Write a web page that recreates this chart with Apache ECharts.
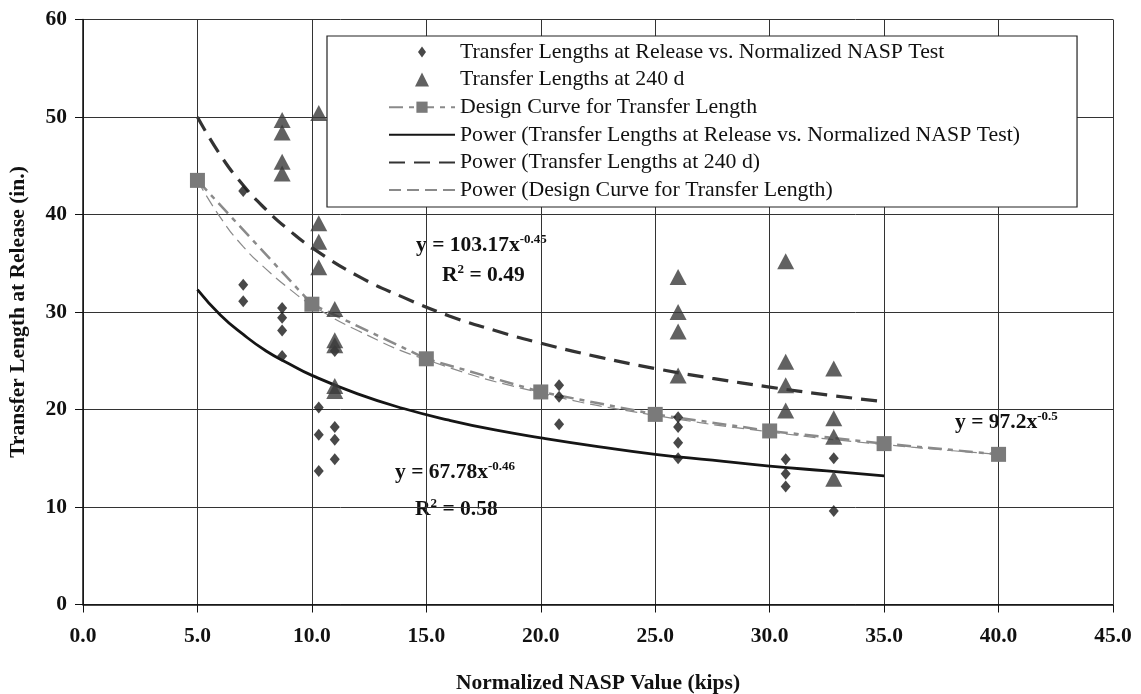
<!DOCTYPE html>
<html><head><meta charset="utf-8">
<script src="https://cdn.jsdelivr.net/npm/echarts@6/dist/echarts.min.js"></script>
<style>html,body{margin:0;padding:0;background:#fff}#c{width:1141px;height:694px}</style>
</head><body><div id="c"></div>
<script>
// Scatter data (x = normalized NASP value, y = transfer length)
const releaseX = [7.0,7.0,7.0, 8.7,8.7,8.7,8.7, 10.3,10.3,10.3, 11.0,11.0,11.0,11.0, 20.8,20.8,20.8, 26.0,26.0,26.0,26.0, 30.7,30.7,30.7, 32.8,32.8];
const releaseY = [42.4,32.8,31.1, 30.4,29.4,28.1,25.5, 20.2,17.4,13.7, 26.0,18.2,16.9,14.9, 22.5,21.3,18.5, 19.2,18.2,16.6,15.0, 14.9,13.4,12.1, 15.0,9.6];
const d240X = [8.7,8.7,8.7,8.7, 10.3,10.3,10.3,10.3, 11.0,11.0,11.0,11.0,11.0, 26.0,26.0,26.0,26.0, 30.7,30.7,30.7,30.7, 32.8,32.8,32.8,32.8];
const d240Y = [49.7,48.4,45.4,44.2, 50.4,39.1,37.2,34.6, 30.3,27.1,26.6,22.4,21.9, 33.6,30.0,28.0,23.5, 35.2,24.9,22.5,19.9, 24.2,19.1,17.2,12.9];
// Design curve points
const designX = [5,10,15,20,25,30,35,40];
const designY = [43.5,30.8,25.2,21.8,19.5,17.8,16.5,15.4];
// Trend lines
const trendX = [5,6,7,8,9,10,12,14,16,18,20,22.5,25,27.5,30,32.5,35];
const powRelease = [32.3,29.7,27.7,26.0,24.7,23.5,21.6,20.1,18.9,17.9,17.1,16.2,15.4,14.8,14.2,13.7,13.2];
const pow240 = [50.0,46.1,43.0,40.5,38.4,36.6,33.7,31.5,29.6,28.1,26.8,25.4,24.2,23.2,22.3,21.5,20.8];
const designTrendX = [5,6,7,8,9,10,12,15,20,25,30,35,40];
const powDesign = [43.5,39.7,36.7,34.4,32.4,30.7,28.1,25.1,21.7,19.4,17.7,16.4,15.4];
// Axis ticks
const xTicks = ['0.0','5.0','10.0','15.0','20.0','25.0','30.0','35.0','40.0','45.0'];

const names = [
 'Transfer Lengths at Release vs. Normalized NASP Test',
 'Transfer Lengths at 240 d',
 'Design Curve for Transfer Length',
 'Power (Transfer Lengths at Release vs. Normalized NASP Test)',
 'Power (Transfer Lengths at 240 d)',
 'Power (Design Curve for Transfer Length)'
];
const zip = (a,b)=>a.map((v,i)=>[v,b[i]]);
const serif = '"Liberation Serif","DejaVu Serif",serif';
const FS = 21.5;
const rich = {a:{fontFamily:serif,fontWeight:'bold',fontSize:FS,fill:'#111',lineHeight:24},
              s:{fontFamily:serif,fontWeight:'bold',fontSize:13,fill:'#111',verticalAlign:'top',lineHeight:24,padding:[0,0,10,0]}};

const chart = echarts.init(document.getElementById('c'));
chart.setOption({
  animation:false,
  backgroundColor:'#fff',
  grid:{left:83,right:28,top:19.5,bottom:89.5,containLabel:false,outerBoundsMode:'none'},
  xAxis:{type:'value',min:0,max:45,interval:5,
    name:'Normalized NASP Value (kips)',nameLocation:'middle',nameGap:68,
    nameTextStyle:{fontFamily:serif,fontWeight:'bold',fontSize:FS,color:'#111'},
    axisLine:{onZero:false,lineStyle:{color:'#111',width:1.5}},
    axisTick:{show:true,length:8,lineStyle:{color:'#111'}},
    axisLabel:{margin:21,fontFamily:serif,fontWeight:'bold',fontSize:FS,color:'#111',
      formatter:(v)=>xTicks[Math.round(v/5)]},
    splitLine:{show:true,lineStyle:{color:'#333',width:1}}},
  yAxis:{type:'value',min:0,max:60,interval:10,
    name:'Transfer Length at Release (in.)',nameLocation:'middle',nameGap:54,nameRotate:90,
    nameTextStyle:{fontFamily:serif,fontWeight:'bold',fontSize:FS,color:'#111'},
    axisLine:{show:true,lineStyle:{color:'#111',width:1.5}},
    axisTick:{show:true,length:8,lineStyle:{color:'#111'}},
    axisLabel:{margin:16,fontFamily:serif,fontWeight:'bold',fontSize:FS,color:'#111'},
    splitLine:{show:true,lineStyle:{color:'#333',width:1}}},
  legend:{orient:'vertical',left:327,top:36,
    backgroundColor:'#fff',borderColor:'#222',borderWidth:1.2,
    padding:[5,57,6,61],itemGap:5.6,itemWidth:66,itemHeight:14,
    textStyle:{fontFamily:serif,fontSize:21.8,color:'#111',lineHeight:22},
    data:[
      {name:names[0],icon:'path://M4,0L4.01,0L4,0.01Z M4,1.5L8,7L4,12.5L0,7Z M4,14L4.01,14L4,13.99Z'},
      {name:names[1],icon:'path://M7,0L14,14L0,14Z'},
      {name:names[2]},
      {name:names[3],itemStyle:{opacity:0}},
      {name:names[4],itemStyle:{opacity:0}},
      {name:names[5],itemStyle:{opacity:0}}
    ]},
  series:[
    {name:names[3],type:'line',data:zip(trendX,powRelease),smooth:true,showSymbol:false,symbol:'none',
      lineStyle:{color:'#151515',width:2.8},itemStyle:{color:'#151515'},z:2},
    {name:names[4],type:'line',data:zip(trendX,pow240),smooth:true,showSymbol:false,symbol:'none',
      lineStyle:{color:'#333',width:3.2,type:[16,9]},itemStyle:{color:'#333'},z:2},
    {name:names[5],type:'line',data:zip(designTrendX,powDesign),smooth:true,showSymbol:false,symbol:'none',
      lineStyle:{color:'#8a8a8a',width:1.2,type:[12,6]},itemStyle:{color:'#8a8a8a'},z:2},
    {name:names[2],type:'line',data:zip(designX,designY),symbol:'rect',symbolSize:15,
      lineStyle:{color:'#8a8a8a',width:2.5,type:[14,6,5,6]},itemStyle:{color:'#7a7a7a'},z:3},
    {name:names[0],type:'scatter',data:zip(releaseX,releaseY),symbol:'diamond',symbolSize:[10,12],
      itemStyle:{color:'#1a1a1a'},z:4},
    {name:names[1],type:'scatter',data:zip(d240X,d240Y),symbol:'triangle',symbolSize:[17,16],
      itemStyle:{color:'#3a3a3a'},z:4}
  ],
  graphic:[
    {type:'text',left:416,top:233,style:{rich:rich,text:'{a|y = 103.17x}{s|-0.45}'}},
    {type:'text',left:442,top:263,style:{rich:rich,text:'{a|R}{s|2}{a| = 0.49}'}},
    {type:'text',left:395,top:460,style:{rich:rich,text:'{a|y = 67.78x}{s|-0.46}'}},
    {type:'text',left:415,top:497,style:{rich:rich,text:'{a|R}{s|2}{a| = 0.58}'}},
    {type:'text',left:955,top:410,style:{rich:rich,text:'{a|y = 97.2x}{s|-0.5}'}}
  ]
});
</script></body></html>
